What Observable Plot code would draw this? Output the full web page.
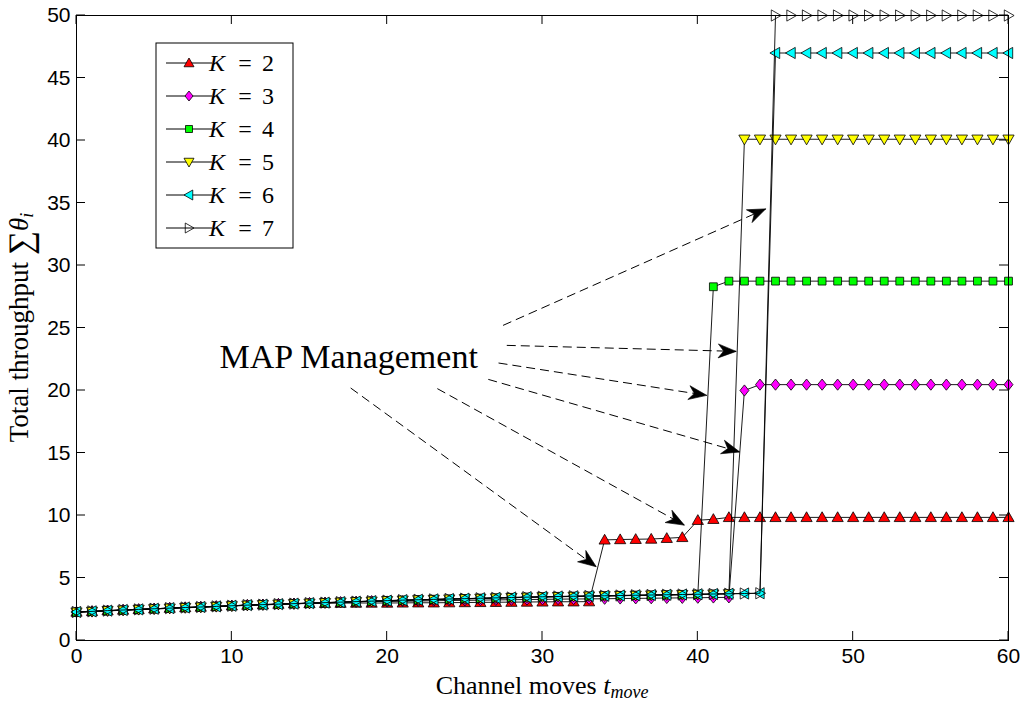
<!DOCTYPE html>
<html>
<head>
<meta charset="utf-8">
<script src="https://cdn.jsdelivr.net/npm/d3@7"></script>
<script src="https://cdn.jsdelivr.net/npm/@observablehq/plot@0.6"></script>
<style>
  html, body { margin: 0; padding: 0; background: white; }
</style>
</head>
<body>
<div id="chart"></div>
<script>
// ---------------- data ----------------
const moves = [0,1,2,3,4,5,6,7,8,9,10,11,12,13,14,15,16,17,18,19,20,21,22,23,24,25,26,27,28,29,30,
  31,32,33,34,35,36,37,38,39,40,41,42,43,44,45,46,47,48,49,50,51,52,53,54,55,56,57,58,59,60];

const seriesK = ["2", "3", "4", "5", "6", "7"];

const thrK2 = [2.28,2.33,2.39,2.44,2.49,2.54,2.59,2.64,2.68,2.73,2.78,2.83,2.87,2.91,2.95,
  2.97,2.98,2.99,3.00,3.00,3.00,3.01,3.02,3.02,3.03,3.04,3.05,3.06,3.07,3.08,3.09,3.10,3.10,3.11,
  8.05,8.08,8.10,8.12,8.18,8.25,9.62,9.70,
  9.85,9.85,9.85,9.85,9.85,9.85,9.85,9.85,9.85,9.85,9.85,9.85,9.85,9.85,9.85,9.85,9.85,9.85,9.85];

const thrK3 = [2.28,2.33,2.39,2.44,2.49,2.54,2.59,2.64,2.68,2.73,2.78,2.83,2.87,2.91,2.95,2.99,3.03,3.07,3.11,3.15,
  3.12,3.14,3.16,3.18,3.20,3.21,3.23,3.25,3.26,3.28,3.29,3.31,3.32,3.33,3.34,3.36,3.37,3.38,3.40,3.41,3.42,3.44,3.45,
  20.0,
  20.47,20.47,20.47,20.47,20.47,20.47,20.47,20.47,20.47,20.47,20.47,20.47,20.47,20.47,20.47,20.47,20.47];

const thrK4 = [2.26,2.31,2.37,2.42,2.47,2.52,2.57,2.62,2.66,2.71,2.76,2.81,2.85,2.89,2.93,2.97,3.01,3.05,3.09,3.13,
  3.17,3.21,3.24,3.27,3.30,3.33,3.36,3.39,3.42,3.45,3.48,3.50,3.52,3.54,3.56,3.58,3.60,3.62,3.64,3.66,3.68,
  28.3,
  28.75,28.75,28.75,28.75,28.75,28.75,28.75,28.75,28.75,28.75,28.75,28.75,28.75,28.75,28.75,28.75,28.75,28.75,28.75];

const thrK5 = [2.27,2.32,2.38,2.43,2.48,2.53,2.58,2.63,2.67,2.72,2.77,2.82,2.86,2.90,2.94,2.98,3.02,3.06,3.10,3.14,
  3.18,3.22,3.25,3.28,3.31,3.34,3.37,3.40,3.43,3.46,3.49,3.51,3.53,3.55,3.57,3.59,3.61,3.63,3.65,3.67,3.69,3.71,3.73,
  40.1,40.1,40.1,40.1,40.1,40.1,40.1,40.1,40.1,40.1,40.1,40.1,40.1,40.1,40.1,40.1,40.1,40.1];

const thrK6 = [2.28,2.33,2.39,2.44,2.49,2.54,2.59,2.64,2.68,2.73,2.78,2.83,2.87,2.91,2.95,2.99,3.03,3.07,3.11,3.15,
  3.19,3.23,3.26,3.29,3.32,3.35,3.38,3.41,3.44,3.47,3.50,3.52,3.54,3.56,3.58,3.60,3.62,3.64,3.66,3.68,3.70,3.72,3.74,3.76,3.78,
  47.0,47.0,47.0,47.0,47.0,47.0,47.0,47.0,47.0,47.0,47.0,47.0,47.0,47.0,47.0,47.0];

const thrK7 = [2.28,2.33,2.39,2.44,2.49,2.54,2.59,2.64,2.68,2.73,2.78,2.83,2.87,2.91,2.95,2.99,3.03,3.07,3.11,3.15,
  3.19,3.23,3.26,3.29,3.32,3.35,3.38,3.41,3.44,3.47,3.50,3.52,3.54,3.56,3.58,3.60,3.62,3.64,3.66,3.68,3.70,3.72,3.74,3.76,3.78,
  50.0,50.0,50.0,50.0,50.0,50.0,50.0,50.0,50.0,50.0,50.0,50.0,50.0,50.0,50.0,50.0];

const xTicks = [0, 10, 20, 30, 40, 50, 60];
const yTicks = [0, 5, 10, 15, 20, 25, 30, 35, 40, 45, 50];

// annotation (data coordinates)
const annotationText = ["MAP Management"];
const annotationX = [9.2];
const annotationY = [22.7];
const arrowFromX = [27.46, 27.70, 27.17, 26.51, 23.23, 17.65];
const arrowFromY = [25.21, 23.61, 22.20, 20.89, 20.15, 20.20];
const arrowToX   = [44.37, 42.47, 40.57, 42.70, 39.13, 33.46];
const arrowToY   = [34.53, 23.13, 19.61, 15.08, 9.23, 5.90];

// ---------------- styling ----------------
const fills = ["#ff0000", "#ff00ff", "#00ff00", "#ffff00", "#00ffff", "none"];
const serif = "'Liberation Serif', 'DejaVu Serif', serif";
const sans = "'Liberation Sans', Arial, Helvetica, sans-serif";

function poly(pts) {
  return {
    draw(ctx, size) {
      const r = Math.sqrt(size / Math.PI);
      ctx.moveTo(pts[0][0] * r, pts[0][1] * r);
      for (let i = 1; i < pts.length; ++i) ctx.lineTo(pts[i][0] * r, pts[i][1] * r);
      ctx.closePath();
    }
  };
}
const symbols = [
  poly([[0, -1.0], [1.0, 0.75], [-1.0, 0.75]]),            // triangle up
  poly([[0, -1.0], [0.8, 0], [0, 1.0], [-0.8, 0]]),         // diamond
  poly([[-0.7, -0.7], [0.7, -0.7], [0.7, 0.7], [-0.7, 0.7]]), // square
  poly([[0, 1.0], [1.0, -0.75], [-1.0, -0.75]]),            // triangle down
  poly([[-1.0, 0], [0.75, -1.0], [0.75, 1.0]]),             // triangle left
  poly([[1.0, 0], [-0.75, -1.0], [-0.75, 1.0]])             // triangle right
];
const markerR = 5.6;

const allSeries = [thrK2, thrK3, thrK4, thrK5, thrK6, thrK7];
const seriesRows = allSeries.map((vals, s) => moves.map((m, i) => ({x: m, y: vals[i], k: seriesK[s]})));

// arrow head marker
const arrowHead = (color, context) => {
  const m = d3.create("svg:marker")
    .attr("viewBox", "-20 -9 22 18")
    .attr("markerWidth", 22)
    .attr("markerHeight", 18)
    .attr("markerUnits", "userSpaceOnUse")
    .attr("orient", "auto")
    .attr("refX", 0)
    .attr("refY", 0)
    .attr("overflow", "visible");
  m.append("path")
    .attr("d", "M0,0L-18,-7L-12.5,0L-18,7Z")
    .attr("fill", "black")
    .attr("stroke", "black")
    .attr("stroke-width", 0.6)
    .attr("stroke-dasharray", "none")
    .attr("stroke-linejoin", "miter");
  return m.node();
};

// inward ticks on all four sides
function innerTicks(index, scales, values, dims) {
  const g = d3.create("svg:g").attr("stroke", "black").attr("stroke-width", 1);
  const x0 = dims.marginLeft, x1 = dims.width - dims.marginRight;
  const y0 = dims.marginTop, y1 = dims.height - dims.marginBottom;
  const L = 9;
  for (const t of xTicks) {
    const px = scales.x(t);
    g.append("line").attr("x1", px).attr("x2", px).attr("y1", y1).attr("y2", y1 - L);
    g.append("line").attr("x1", px).attr("x2", px).attr("y1", y0).attr("y2", y0 + L);
  }
  for (const t of yTicks) {
    const py = scales.y(t);
    g.append("line").attr("y1", py).attr("y2", py).attr("x1", x0).attr("x2", x0 + L);
    g.append("line").attr("y1", py).attr("y2", py).attr("x1", x1).attr("x2", x1 - L);
  }
  return g.node();
}

// axis labels with math
function axisLabels(index, scales, values, dims) {
  const g = d3.create("svg:g").attr("font-family", serif).attr("fill", "black");
  const cx = (dims.marginLeft + dims.width - dims.marginRight) / 2;
  const cy = (dims.marginTop + dims.height - dims.marginBottom) / 2;
  const xl = g.append("text").attr("x", cx).attr("y", dims.height - 8)
    .attr("text-anchor", "middle").attr("font-size", 26);
  xl.append("tspan").text("Channel moves ");
  xl.append("tspan").attr("font-style", "italic").text("t");
  xl.append("tspan").attr("font-style", "italic").attr("font-size", 18).attr("dy", 4).text("move");

  const yl = g.append("text").attr("transform", `translate(28,${cy}) rotate(-90)`)
    .attr("text-anchor", "middle").attr("font-size", 27);
  yl.append("tspan").text("Total throughput ");
  yl.append("tspan").attr("font-size", 34).attr("dy", 4).text("\u2211");
  yl.append("tspan").attr("font-style", "italic").attr("dy", -4).text("\u03B8");
  yl.append("tspan").attr("font-style", "italic").attr("font-size", 18).attr("dy", 5).text("i");
  return g.node();
}

// legend inside the plot
function legendMark(index, scales, values, dims) {
  const g = d3.create("svg:g");
  const L = dims.marginLeft + 80, T = dims.marginTop + 28;
  g.append("rect").attr("x", L).attr("y", T).attr("width", 137).attr("height", 205)
    .attr("fill", "white").attr("stroke", "black").attr("stroke-width", 1);
  seriesK.forEach((k, i) => {
    const cy = T + 20 + 33 * i;
    g.append("line").attr("x1", L + 10).attr("x2", L + 56).attr("y1", cy).attr("y2", cy)
      .attr("stroke", "black").attr("stroke-width", 1);
    g.append("path").attr("transform", `translate(${L + 33},${cy})`)
      .attr("d", d3.symbol(symbols[i], 5 * 5 * Math.PI)())
      .attr("fill", fills[i]).attr("stroke", "black").attr("stroke-width", 0.8);
    const t = g.append("text").attr("y", cy + 8).attr("font-family", serif).attr("font-size", 24).attr("fill", "black");
    t.append("tspan").attr("x", L + 61).attr("font-style", "italic").text("K");
    t.append("tspan").attr("x", L + 89).text("=");
    t.append("tspan").attr("x", L + 112).text(k);
  });
  return g.node();
}

const seriesMarks = seriesRows.flatMap((rows, s) => [
  Plot.line(rows, {x: "x", y: "y", stroke: "black", strokeWidth: 0.9}),
  Plot.dot(rows, {x: "x", y: "y", r: markerR, symbol: symbols[s], fill: fills[s], stroke: "black", strokeWidth: 0.8})
]);

const arrowIdx = arrowFromX.map((_, i) => i);

const chart = Plot.plot({
  width: 1027,
  height: 702,
  marginLeft: 76,
  marginRight: 19,
  marginTop: 15,
  marginBottom: 62,
  style: {fontFamily: sans, fontSize: "21px", background: "white", color: "black", overflow: "visible"},
  x: {domain: [0, 60]},
  y: {domain: [0, 50]},
  marks: [
    Plot.axisX({ticks: xTicks, tickSize: 0, tickPadding: 8, label: null, fontSize: 21}),
    Plot.axisY({ticks: yTicks, tickSize: 0, tickPadding: 6, label: null, fontSize: 21}),
    ...seriesMarks,
    Plot.link(arrowIdx, {
      x1: i => arrowFromX[i], y1: i => arrowFromY[i],
      x2: i => arrowToX[i], y2: i => arrowToY[i],
      stroke: "black", strokeWidth: 1, strokeDasharray: "9,5", markerEnd: arrowHead
    }),
    Plot.text(annotationText, {
      x: (d, i) => annotationX[i], y: (d, i) => annotationY[i], text: d => d,
      textAnchor: "start", fontSize: 34, fontFamily: serif, fill: "black"
    }),
    Plot.frame({stroke: "black", strokeWidth: 1}),
    innerTicks,
    axisLabels,
    legendMark
  ]
});

document.getElementById("chart").append(chart);
</script>
</body>
</html>
